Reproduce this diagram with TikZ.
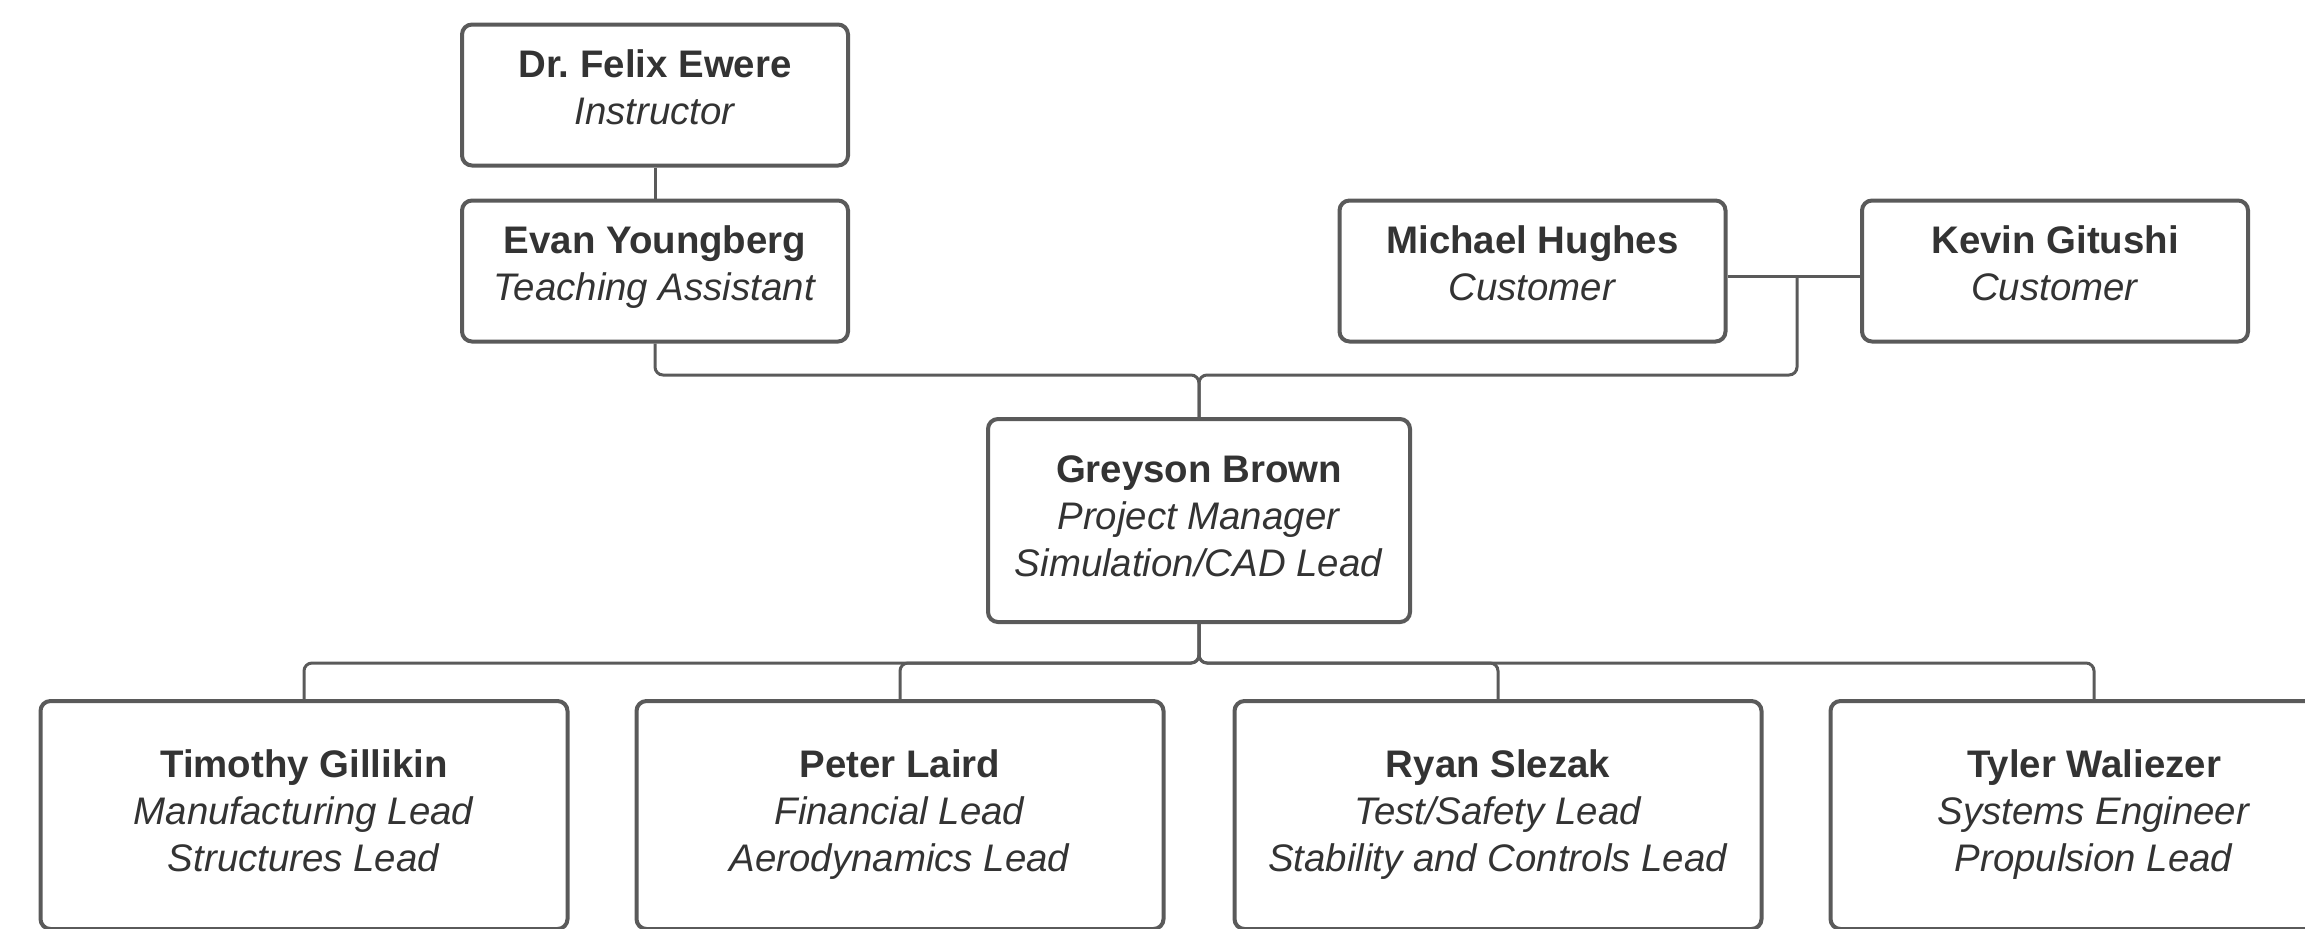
\documentclass[tikz,border=0pt]{standalone}
\usepackage{fontspec}
\setmainfont{Liberation Sans}
\frenchspacing
\definecolor{linec}{HTML}{5A5A5A}
\definecolor{textc}{HTML}{333333}
\newcommand\topstrut{\rule{0pt}{16.45pt}}
\newcommand\lowstrut[1]{\rule[-#1]{0pt}{#1}}
\tikzset{
  person/.style={draw=linec, line width=2pt, rounded corners=5pt, fill=white,
    align=center, text=textc, font=\fontsize{19.2}{23.5}\selectfont, inner sep=0pt},
  smallbox/.style={person, minimum width=193pt, minimum height=70.5pt},
  lowbox/.style={person, minimum width=263.5pt, minimum height=114pt},
  link/.style={draw=linec, line width=1.5pt, rounded corners=4pt},
}
\begin{document}
\begin{tikzpicture}[x=0.5pt,y=-0.5pt]
\useasboundingbox (0,0) rectangle (2305,928);
\clip (0,0) rectangle (2305,928);
\node[smallbox] (felix) at (655,95) {\topstrut\textbf{Dr. Felix Ewere}\\\textit{Instructor}\lowstrut{10pt}};
\node[smallbox] (evan) at (655,271) {\topstrut\textbf{Evan Youngberg}\\\textit{Teaching Assistant}\lowstrut{10pt}};
\node[smallbox] (michael) at (1532.5,271) {\topstrut\textbf{Michael Hughes}\\\textit{Customer}\lowstrut{10pt}};
\node[smallbox] (kevin) at (2055,271) {\topstrut\textbf{Kevin Gitushi}\\\textit{Customer}\lowstrut{10pt}};
\node[person, minimum width=211pt, minimum height=101.5pt] (greyson) at (1199,520.5)
  {\topstrut\textbf{Greyson Brown}\\\textit{Project Manager}\\\textit{Simulation/CAD Lead}\lowstrut{7.05pt}};
\node[lowbox] (tim) at (304,815) {\topstrut\textbf{Timothy Gillikin}\\\textit{Manufacturing Lead}\\\textit{Structures Lead}\lowstrut{7.05pt}};
\node[lowbox] (peter) at (900,815) {\topstrut\textbf{Peter Laird}\\\textit{Financial Lead}\\\textit{Aerodynamics Lead}\lowstrut{7.05pt}};
\node[lowbox] (ryan) at (1498,815) {\topstrut\textbf{Ryan Slezak}\\\textit{Test/Safety Lead}\\\textit{Stability and Controls Lead}\lowstrut{7.05pt}};
\node[lowbox] (tyler) at (2094,815) {\topstrut\textbf{Tyler Waliezer}\\\textit{Systems Engineer}\\\textit{Propulsion Lead}\lowstrut{7.05pt}};

\coordinate (topbus) at (1200,375);
\coordinate (lowbus) at (1200,663);
\coordinate (mk) at (1797,276);

\draw[link] (felix.south) -- (evan.north);
\draw[link] (michael.east |- mk) -- (kevin.west |- mk);
\draw[link] (evan.south) -- (evan.south |- topbus) -- (greyson.north |- topbus) -- (greyson.north);
\draw[link] (mk) -- (mk |- topbus) -- (greyson.north |- topbus) -- (greyson.north);
\foreach \c in {tim,peter,ryan,tyler}{
  \draw[link] (greyson.south) -- (greyson.south |- lowbus) -- (\c.north |- lowbus) -- (\c.north);
}
\end{tikzpicture}
\end{document}
